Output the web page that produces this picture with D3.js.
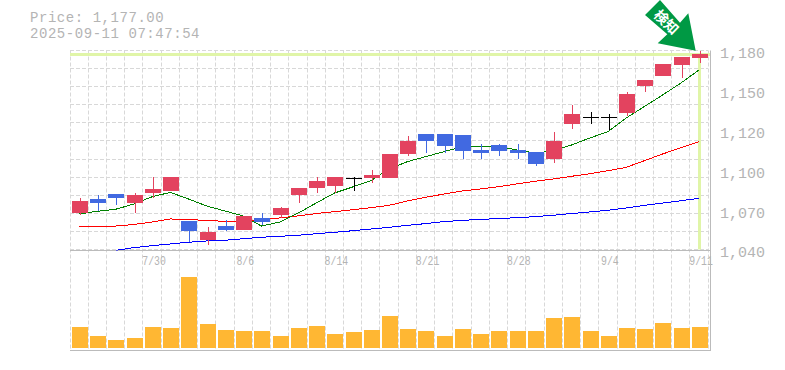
<!DOCTYPE html>
<html>
<head>
<meta charset="utf-8">
<script src="https://cdn.jsdelivr.net/npm/d3@7"></script>
<style>
  html, body { margin: 0; padding: 0; background: #fff; }
  svg { display: block; }
  text { font-family: "Liberation Mono", monospace; fill: #b4b4b4; }
</style>
</head>
<body>
<svg id="chart" width="785" height="370"></svg>
<script>
const dates = ["7/24","7/25","7/28","7/29","7/30","7/31","8/1","8/4","8/5","8/6","8/7","8/8","8/12","8/13","8/14","8/15","8/18","8/19","8/20","8/21","8/22","8/25","8/26","8/27","8/28","8/29","9/1","9/2","9/3","9/4","9/5","9/8","9/9","9/10","9/11"];
const opens  = [1066,1075,1079,1073,1080,1081,1060,1047,1056,1054,1062,1064,1078,1083,1085,1090,1090,1090,1107,1121,1121,1120,1110,1113,1110,1108,1104,1128,1133,1133,1136,1155,1162,1170,1175];
const closes = [1074,1073,1076,1078,1082,1091,1053,1052,1054,1063,1059,1069,1083,1088,1091,1090,1092,1107,1116,1116,1113,1109,1108,1109,1108,1100,1116,1135,1133,1133,1149,1159,1170,1175,1177];
const highs  = [1076,1078,1079,1080,1091,1091,1060,1056,1061,1063,1066,1070,1083,1091,1091,1091,1096,1107,1120,1121,1121,1120,1114,1114,1114,1108,1123,1142,1137,1135,1151,1159,1170,1175,1180];
const lows   = [1064,1067,1071,1066,1076,1081,1045,1043,1053,1054,1057,1062,1073,1080,1080,1081,1087,1090,1106,1108,1108,1104,1104,1106,1104,1099,1101,1125,1128,1124,1134,1151,1162,1161,1171];
const volumes = [21,12,8,10,21,20,71,24,18,17,17,12,20,22,14,16,18,32,19,17,12,19,14,17,17,17,30,31,17,12,20,19,25,20,21];
const maShort = [1065,1066.9,1068.3,1072,1077.1,1080.2,1075.5,1070.6,1067.1,1063.6,1056.5,1059.3,1065.5,1072.7,1079.7,1084,1088.4,1096.6,1101.8,1105.3,1108.8,1112.3,1112.8,1112.5,1110,1107.9,1109.3,1113.5,1118.4,1122.9,1132.5,1140.6,1148.7,1157.1,1166.3];
const maMid = [1056.3,1056.3,1056.5,1057.6,1059.3,1061.5,1061.1,1060.4,1059.8,1060,1061,1062.2,1063.6,1065.3,1066.6,1068,1069.4,1071.1,1074.1,1076.7,1079,1081.2,1082.6,1084.2,1086.1,1088,1089.6,1091.5,1093.3,1095.4,1097.8,1102.5,1107.2,1111.6,1115.8];
const maLong = [null,null,1039.4,1041.3,1042.7,1043.9,1045.1,1046,1046.5,1047.6,1048.6,1049.3,1050,1051.1,1052.1,1053.2,1054.4,1055.6,1057,1058.2,1059.6,1060.5,1061.2,1061.7,1062.4,1063.1,1064.1,1065.3,1066.4,1067.6,1069.2,1071.1,1072.7,1074.3,1076];
const yTicks = [1180,1152,1124,1096,1068,1040];
const yTickLabels = ["1,180","1,150","1,120","1,100","1,070","1,040"];
const xTickDates = ["7/30","8/6","8/14","8/21","8/28","9/4","9/11"];
const currentPrice = 1177;
const titleLines = ["Price: 1,177.00","2025-09-11 07:47:54"];
const badgeLabel = "検知";

const svg = d3.select("#chart");

const plotLeft = 70, plotRight = 710, plotTop = 50.5, priceBottom = 249.5, volBottom = 348;
const stepCount = 11;

// Bands and scales
const x = d3.scaleBand().domain(dates).range([plotLeft, 708.2]);
const y = d3.scaleLinear().domain([1040, 1180]).range([priceBottom, plotTop]);
const yVol = d3.scaleLinear().domain([0, 100]).range([volBottom, volBottom - 100]);
const cx = d => x(d) + x.bandwidth() / 2;
const barLeft = d => Math.round(x(d) + 2);
const barWidth = 16;

// Grid
const grid = svg.append("g").attr("stroke", "#d8d8d8").attr("stroke-dasharray", "4,2").attr("stroke-width", 1);
d3.range(stepCount + 1).forEach(function (i) {
  const py = Math.floor(y(1040 + i * 140 / stepCount)) + 0.5;
  grid.append("line").attr("x1", plotLeft).attr("x2", plotRight - 2).attr("y1", py).attr("y2", py);
});
dates.concat("end").forEach(function (d, i) {
  const px = Math.floor(plotLeft + i * x.step()) + 0.5;
  grid.append("line").attr("x1", px).attr("x2", px).attr("y1", plotTop).attr("y2", 350);
});

// Current price highlight
svg.append("line").attr("x1", plotLeft).attr("x2", plotRight)
  .attr("y1", Math.round(y(currentPrice)) - 0.5).attr("y2", Math.round(y(currentPrice)) - 0.5)
  .attr("stroke", "#e0f5a8").attr("stroke-width", 3);
svg.append("line").attr("x1", Math.round(cx("9/11")) + 0.5).attr("x2", Math.round(cx("9/11")) + 0.5)
  .attr("y1", y(currentPrice)).attr("y2", priceBottom)
  .attr("stroke", "#e0f5a8").attr("stroke-width", 3);

// Frame
const frame = svg.append("g").attr("stroke", "#bbb").attr("fill", "none").attr("stroke-width", 1);
frame.append("line").attr("x1", plotLeft).attr("x2", plotRight).attr("y1", 250.5).attr("y2", 250.5);
frame.append("line").attr("x1", plotLeft).attr("x2", plotRight).attr("y1", 350.5).attr("y2", 350.5);
frame.append("line").attr("x1", plotRight + 0.5).attr("x2", plotRight + 0.5).attr("y1", plotTop).attr("y2", 351);

// Volume
svg.append("g").selectAll("rect").data(dates).enter().append("rect")
  .attr("x", barLeft)
  .attr("y", (d, i) => yVol(volumes[i]))
  .attr("width", barWidth)
  .attr("height", (d, i) => yVol(0) - yVol(volumes[i]))
  .attr("fill", "#ffb733");

// Moving averages, blue runs off the bottom so clip it
svg.append("clipPath").attr("id", "priceClip").append("rect")
  .attr("x", plotLeft).attr("y", plotTop).attr("width", plotRight - plotLeft).attr("height", 200);
const line = d3.line().defined(d => d[1] !== null).x(d => cx(d[0])).y(d => y(d[1]));
[[maLong, "#0000ff"], [maMid, "#ff0000"], [maShort, "#008000"]].forEach(function (s) {
  svg.append("path")
    .attr("d", line(dates.map((d, i) => [d, s[0][i]])))
    .attr("fill", "none").attr("stroke", s[1]).attr("stroke-width", 1)
    .attr("shape-rendering", "crispEdges")
    .attr("clip-path", "url(#priceClip)");
});

// Candles
function candleColor(i) {
  if (closes[i] > opens[i]) return "#e3435f";
  if (closes[i] < opens[i]) return "#4169e1";
  return "#000";
}
const bodyTop = i => Math.floor(y(Math.max(opens[i], closes[i])));
const bodyBottom = i => Math.round(y(Math.min(opens[i], closes[i])));
const candles = svg.append("g").selectAll("g").data(dates).enter().append("g");
candles.append("line")
  .attr("x1", d => barLeft(d) + barWidth / 2 + 0.5).attr("x2", d => barLeft(d) + barWidth / 2 + 0.5)
  .attr("y1", (d, i) => Math.round(y(highs[i]))).attr("y2", (d, i) => Math.round(y(lows[i])))
  .attr("stroke", (d, i) => candleColor(i)).attr("stroke-width", 1);
candles.append("rect")
  .attr("x", barLeft)
  .attr("y", (d, i) => bodyTop(i))
  .attr("width", barWidth)
  .attr("height", (d, i) => Math.max(1, bodyBottom(i) - bodyTop(i)))
  .attr("fill", (d, i) => candleColor(i));

// Axes
const yAxis = d3.axisRight(y).tickValues(yTicks).tickSize(0).tickPadding(0)
  .tickFormat((d, i) => yTickLabels[i]);
const yG = svg.append("g").attr("transform", "translate(720,2.5)").call(yAxis);
yG.select(".domain").remove();
yG.selectAll("text").style("font-size", "15px").style("font-family", '"Liberation Mono", monospace').attr("fill", null);

const xAxis = d3.axisBottom(x).tickValues(xTickDates).tickSize(0).tickPadding(0);
const xG = svg.append("g").attr("transform", "translate(2,256)").call(xAxis);
xG.select(".domain").remove();
xG.selectAll("text")
  .style("font-size", "12px").style("font-family", '"Liberation Mono", monospace').attr("fill", null)
  .attr("textLength", d => d.length * 5.9).attr("lengthAdjust", "spacingAndGlyphs");

// Title
svg.selectAll(".title").data(titleLines).enter().append("text")
  .attr("class", "title")
  .attr("x", 30).attr("y", (d, i) => 22 + i * 16)
  .style("font-size", "14px").style("letter-spacing", "0.55px")
  .text(d => d);

// Arrow badge
const arrowShape = [[660,0],[680,22.7],[688.3,13.3],[695.7,50.7],[657.7,43.3],[667.3,34.3],[645,15]];
svg.append("polygon").attr("points", arrowShape.map(p => p.join(",")).join(" ")).attr("fill", "#009944");
svg.append("text").attr("transform", "translate(667,21.5) rotate(44)")
  .attr("text-anchor", "middle").attr("dominant-baseline", "central")
  .style("font-family", '"Noto Sans CJK JP"').style("font-weight", "700").style("font-size", "14px")
  .style("fill", "#fff").text(badgeLabel);
</script>
</body>
</html>
